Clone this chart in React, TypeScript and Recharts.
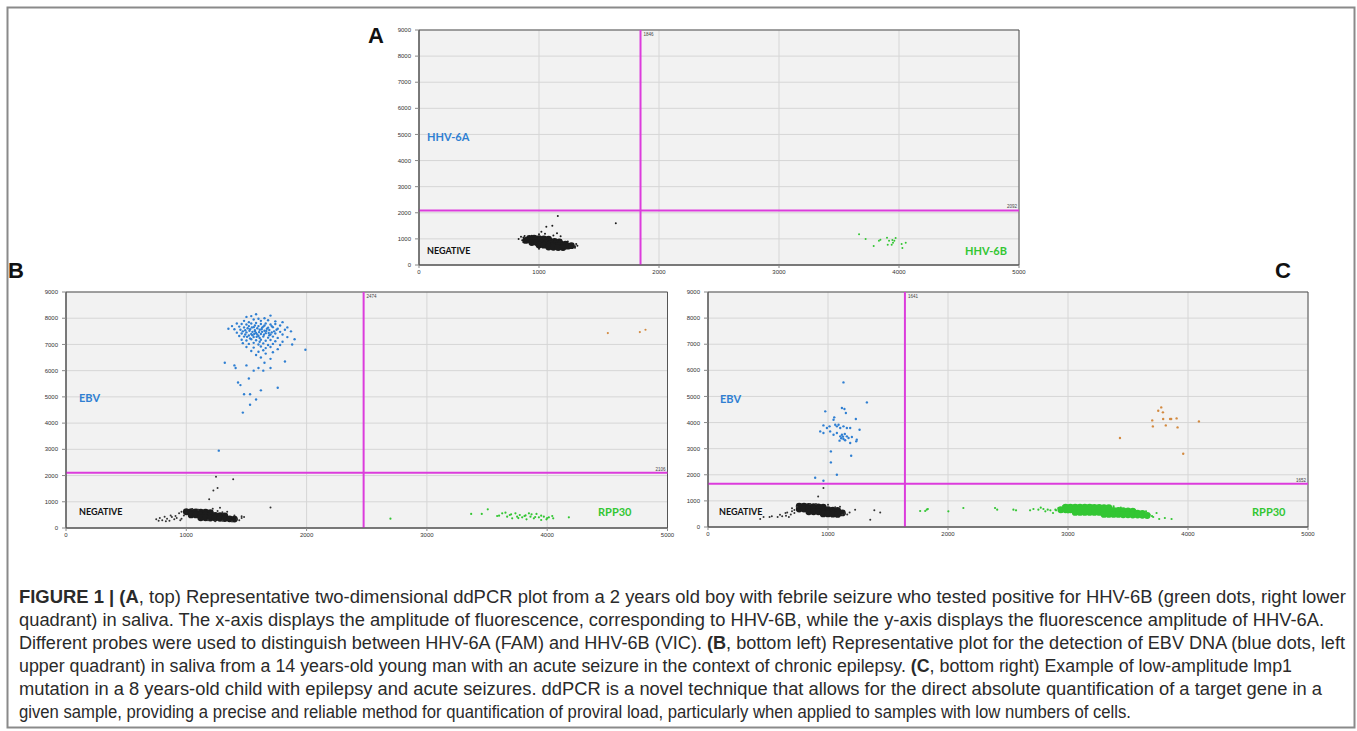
import { ScatterChart, Scatter, XAxis, YAxis, CartesianGrid, ReferenceLine, ReferenceArea } from "recharts"

type Pt = [number, number]

const xTicks = [0, 1000, 2000, 3000, 4000, 5000]
const yTicks = [0, 1000, 2000, 3000, 4000, 5000, 6000, 7000, 8000, 9000]

// panel A: HHV-6A (y) vs HHV-6B (x)
const aThreshX = 1846
const aThreshY = 2092
const aNegCore: Pt[] = [
  [920, 1020], [960, 1030], [1000, 1010], [1040, 1000], [1080, 990],
  [890, 940], [930, 950], [970, 940], [1010, 930], [1050, 920], [1090, 910], [1130, 900], [1170, 880],
  [940, 860], [980, 860], [1020, 850], [1060, 840], [1100, 830], [1140, 820], [1180, 810], [1220, 800],
  [1000, 770], [1040, 760], [1080, 760], [1120, 750], [1160, 740], [1200, 730], [1240, 720], [1270, 740],
  [1080, 690], [1120, 680], [1160, 670], [1200, 670],
]
const aNegDots: Pt[] = [
  [830, 1000], [850, 1080], [860, 950], [870, 1050], [1280, 780], [1300, 720], [1310, 800], [1270, 680],
  [1000, 1180], [1050, 1200], [1120, 1130], [1150, 1220], [900, 900], [1240, 900], [870, 870], [1320, 740],
  [1000, 620], [940, 1120], [1180, 1100], [1250, 650], [1200, 600], [1157, 1880], [1061, 1467], [1111, 1506],
  [1020, 1276], [1640, 1600], [880, 1110], [1300, 660],
]
const aPos6B: Pt[] = [
  [3667, 1176], [3722, 996], [3789, 728], [3833, 931], [3845, 969], [3900, 1046], [3917, 931], [3906, 778],
  [3945, 957], [3950, 855], [3972, 1034], [3939, 778], [4022, 804], [4028, 651], [4056, 855], [3961, 931],
]

// panel B: EBV (y) vs RPP30 (x)
const bThreshX = 2474
const bThreshY = 2106
const bNegCore: Pt[] = [
  [1000, 620], [1040, 620], [1080, 610], [1120, 600], [1160, 600], [1200, 590],
  [1040, 500], [1080, 500], [1120, 500], [1160, 490], [1200, 490], [1240, 480], [1280, 470], [1320, 460],
  [1120, 390], [1160, 390], [1200, 380], [1240, 380], [1280, 370], [1320, 360], [1360, 350], [1400, 340],
]
const bNegDots: Pt[] = [
  [940, 560], [960, 620], [980, 480], [1260, 650], [1300, 600], [1420, 330], [1440, 300], [1460, 380],
  [1380, 250], [1300, 280], [1100, 700], [1050, 720], [1220, 730], [1180, 300], [1240, 260], [1340, 620],
  [1400, 480], [1460, 450], [1480, 420], [780, 380], [800, 300], [820, 430], [840, 350], [860, 280],
  [880, 420], [900, 330], [920, 380], [750, 330], [770, 280], [950, 300], [870, 480], [830, 260],
  [910, 460], [960, 350], [1247, 1950], [1225, 1430], [1260, 1530], [1390, 1860], [1190, 1100], [1700, 780],
  [1280, 770],
]
const bPosEbv: Pt[] = [
  [1500, 8050], [1540, 8080], [1580, 8150], [1650, 8000], [1700, 8100], [1600, 7980], [1560, 7950], [1480, 7900],
  [1520, 7850], [1620, 7900], [1680, 7920], [1740, 7880], [1800, 7850], [1420, 7800], [1460, 7780], [1500, 7760],
  [1540, 7800], [1580, 7820], [1620, 7780], [1660, 7800], [1700, 7760], [1740, 7780], [1780, 7720], [1840, 7650],
  [1380, 7700], [1440, 7680], [1480, 7650], [1520, 7700], [1560, 7660], [1600, 7700], [1640, 7680], [1680, 7640],
  [1720, 7660], [1760, 7600], [1820, 7560], [1350, 7600], [1400, 7580], [1450, 7560], [1490, 7540], [1530, 7580],
  [1570, 7540], [1610, 7560], [1650, 7520], [1690, 7550], [1730, 7500], [1780, 7480], [1870, 7500], [1420, 7450],
  [1460, 7420], [1500, 7460], [1540, 7400], [1580, 7440], [1620, 7400], [1660, 7430], [1700, 7380], [1740, 7420],
  [1800, 7380], [1440, 7320], [1480, 7300], [1520, 7340], [1560, 7280], [1600, 7320], [1640, 7300], [1680, 7260],
  [1720, 7300], [1760, 7250], [1840, 7280], [1900, 7200], [1460, 7180], [1500, 7150], [1540, 7200], [1580, 7160],
  [1620, 7180], [1660, 7140], [1700, 7170], [1740, 7120], [1800, 7100], [1470, 7050], [1520, 7020], [1560, 7060],
  [1600, 7000], [1640, 7040], [1680, 6980], [1720, 7020], [1780, 6980], [1880, 7000], [1500, 6900], [1560, 6880],
  [1620, 6920], [1660, 6860], [1700, 6900], [1760, 6820], [1990, 6800], [1540, 6750], [1600, 6720], [1640, 6780],
  [1580, 6600], [1660, 6650], [1720, 6700], [1620, 6500], [1700, 6450], [1320, 6300], [1400, 6200], [1410, 6100],
  [1500, 6200], [1560, 6000], [1600, 6100], [1650, 6300], [1640, 6000], [1700, 6100], [1820, 6350], [1430, 5550],
  [1450, 5450], [1520, 5700], [1480, 5100], [1530, 5100], [1620, 5250], [1760, 5350], [1580, 4900], [1530, 4700],
  [1470, 4400], [1270, 2950], [1510, 7620], [1550, 7480], [1590, 7620], [1630, 7480], [1670, 7600], [1710, 7460],
  [1550, 7350], [1610, 7250], [1690, 7350], [1570, 7720], [1650, 7720], [1530, 7230], [1590, 7380], [1630, 7640],
  [1470, 7500], [1750, 7560], [1710, 7700], [1490, 7380], [1570, 7500], [1610, 7100], [1525, 7520], [1565, 7400],
  [1605, 7470], [1645, 7370], [1585, 7290], [1625, 7580], [1545, 7650], [1665, 7510], [1505, 7290], [1685, 7440],
]
const bPosRpp: Pt[] = [
  [2697, 355], [3368, 535], [3456, 535], [3506, 714], [3584, 458], [3626, 560], [3653, 585], [3667, 433],
  [3689, 496], [3709, 369], [3736, 560], [3750, 433], [3772, 496], [3792, 407], [3811, 458], [3828, 331],
  [3848, 560], [3861, 433], [3889, 369], [3911, 535], [3931, 407], [3950, 305], [3972, 433], [3994, 331],
  [4014, 407], [4042, 458], [4050, 369], [4180, 407], [3600, 470], [3700, 520], [3760, 380], [3820, 480],
  [3870, 520], [3900, 420], [3950, 470], [4000, 380],
]
const bDouble: Pt[] = [[4504, 7434], [4770, 7472], [4817, 7560]]

// panel C: EBV (y) vs RPP30 (x)
const cThreshX = 1641
const cThreshY = 1652
const cNegCore: Pt[] = [
  [760, 800], [800, 800], [840, 790], [880, 780], [920, 770], [960, 760],
  [760, 690], [800, 690], [840, 690], [880, 680], [920, 680], [960, 670], [1000, 660], [1040, 650], [1080, 640],
  [840, 580], [880, 580], [920, 580], [960, 570], [1000, 570], [1040, 560], [1080, 550], [1120, 540],
  [960, 500], [1000, 500], [1040, 490], [1080, 480],
]
const cNegDots: Pt[] = [
  [700, 720], [720, 650], [740, 780], [700, 600], [1140, 520], [1160, 480], [1120, 470], [1180, 560],
  [1000, 850], [1060, 760], [900, 880], [850, 880], [720, 540], [1100, 780], [463, 383], [513, 383],
  [532, 408], [435, 306], [646, 536], [618, 408], [674, 383], [600, 470], [650, 430], [580, 380],
  [690, 480], [660, 560], [1226, 663], [1386, 637], [1435, 560], [1352, 281], [962, 1493], [918, 1172],
]
const cPosEbv: Pt[] = [
  [1129, 5538], [1324, 4772], [1116, 4558], [1137, 4520], [1149, 4366], [1232, 4136], [977, 4430], [1052, 4200],
  [1046, 4110], [962, 3891], [991, 3792], [1013, 3855], [1060, 3918], [1074, 3855], [1088, 3918], [1102, 3792],
  [1129, 3855], [1157, 3792], [1185, 3792], [1263, 3727], [935, 3661], [962, 3598], [1018, 3661], [1046, 3534],
  [1074, 3598], [1102, 3472], [1116, 3534], [1129, 3370], [1157, 3472], [1143, 3320], [1171, 3410], [1199, 3448],
  [1235, 3280], [1185, 3218], [1240, 3345], [1096, 3307], [1024, 2896], [1024, 2475], [1193, 2731], [1074, 2003],
  [893, 1888], [962, 1773], [1110, 3400], [1125, 3460], [1140, 3560],
]
const cPosRppCore: Pt[] = [
  [2980, 760], [3020, 760], [3060, 760], [3100, 760], [3140, 760], [3180, 760], [3220, 750], [3260, 750], [3300, 740], [3340, 740],
  [2940, 660], [2980, 660], [3020, 660], [3060, 660], [3100, 660], [3140, 660], [3180, 660], [3220, 660],
  [3260, 650], [3300, 650], [3340, 650], [3380, 640], [3420, 640], [3460, 630], [3500, 620], [3540, 610],
  [3060, 560], [3100, 560], [3140, 560], [3180, 560], [3220, 560], [3260, 560], [3300, 560], [3340, 560],
  [3380, 560], [3420, 550], [3460, 550], [3500, 540], [3540, 540], [3580, 530], [3620, 520],
  [3300, 480], [3340, 480], [3380, 480], [3420, 480], [3460, 470], [3500, 470], [3540, 460], [3580, 460], [3620, 450], [3660, 440],
]
const cPosRppDots: Pt[] = [
  [1768, 612], [1810, 612], [1823, 663], [1832, 689], [2003, 600], [2128, 727], [2392, 727], [2410, 663],
  [2545, 663], [2567, 637], [2684, 637], [2712, 689], [2753, 663], [2773, 740], [2795, 689], [2811, 600],
  [2831, 663], [2853, 637], [2875, 536], [2895, 663], [2920, 720], [2900, 640], [2960, 800], [3000, 820],
  [3100, 830], [3200, 820], [3300, 810], [3380, 790], [3440, 740], [3560, 640], [3620, 520], [3680, 470],
  [3700, 420], [3650, 600], [3000, 560], [2950, 580], [3710, 383], [3760, 306], [3807, 345], [3863, 306],
  [3738, 536],
]
const cDouble: Pt[] = [
  [3777, 4581], [3752, 4453], [3791, 4390], [3702, 4083], [3793, 4134], [3851, 4134], [3860, 4134], [3905, 4160],
  [3707, 3853], [3815, 3892], [3913, 3815], [4091, 4045], [3433, 3409], [3960, 2807],
]

const captionLines = [
  { parts: [["FIGURE 1 | (A", true], [", top) Representative two-dimensional ddPCR plot from a 2 years old boy with febrile seizure who tested positive for HHV-6B (green dots, right lower", false]], end: 1346 },
  { parts: [["quadrant) in saliva. The x-axis displays the amplitude of fluorescence, corresponding to HHV-6B, while the y-axis displays the fluorescence amplitude of HHV-6A.", false]], end: 1324 },
  { parts: [["Different probes were used to distinguish between HHV-6A (FAM) and HHV-6B (VIC). ", false], ["(B", true], [", bottom left) Representative plot for the detection of EBV DNA (blue dots, left", false]], end: 1345 },
  { parts: [["upper quadrant) in saliva from a 14 years-old young man with an acute seizure in the context of chronic epilepsy. ", false], ["(C", true], [", bottom right) Example of low-amplitude lmp1", false]], end: 1292 },
  { parts: [["mutation in a 8 years-old child with epilepsy and acute seizures. ddPCR is a novel technique that allows for the direct absolute quantification of a target gene in a", false]], end: 1322 },
  { parts: [["given sample, providing a precise and reliable method for quantification of proviral load, particularly when applied to samples with low numbers of cells.", false]], end: 1131 },
] as { parts: [string, boolean][]; end: number }[]

const BLACK = "#1c1c1c"
const BLUE = "#2f7fd2"
const GREEN = "#33c633"
const ORANGE = "#d38a40"
const MAGENTA = "#dc3cdc"

interface Layer { pts: Pt[]; color: string; r: number }

const dot = (color: string, r: number) => (p: any) => <circle cx={p.cx} cy={p.cy} r={r} fill={color} />

function Panel({ left, top, w, h, layers, vx, hy }: { left: number; top: number; w: number; h: number; layers: Layer[]; vx: number; hy: number }) {
  const ML = 45, MR = 14, MT = 8, XH = 16
  const tick = { fontSize: 6, fill: "#333", fontFamily: "Liberation Sans" }
  return (
    <div style={{ position: "absolute", left: left - ML, top: top - MT }}>
      <ScatterChart width={ML + w + MR} height={MT + h + XH} margin={{ top: MT, right: MR, bottom: 0, left: 0 }}>
        <CartesianGrid fill="#f2f2f2" stroke="#d6d6d6" />
        <XAxis type="number" dataKey="x" domain={[0, 5000]} ticks={xTicks} height={XH} tick={tick} tickSize={3} tickMargin={2} axisLine={{ stroke: "#555" }} tickLine={{ stroke: "#888" }} allowDataOverflow />
        <YAxis type="number" dataKey="y" domain={[0, 9000]} ticks={yTicks} width={ML} tick={tick} tickSize={4} tickMargin={4} axisLine={{ stroke: "#555" }} tickLine={{ stroke: "#888" }} allowDataOverflow />
        <ReferenceArea x1={0} x2={5000} y1={0} y2={9000} fill="none" stroke="#555" strokeWidth={1} />
        {layers.map((l, i) => (
          <Scatter key={i} data={l.pts.map(([x, y]) => ({ x, y }))} shape={dot(l.color, l.r)} isAnimationActive={false} />
        ))}
        <ReferenceLine x={vx} stroke={MAGENTA} strokeWidth={2}
          label={(p: any) => <text x={p.viewBox.x + 3} y={p.viewBox.y + 6} fontSize={4.5} fill="#444" fontFamily="Liberation Sans">{vx}</text>} />
        <ReferenceLine y={hy} stroke={MAGENTA} strokeWidth={2}
          label={(p: any) => <text x={p.viewBox.x + p.viewBox.width - 2} y={p.viewBox.y - 2} fontSize={4.5} fill="#444" textAnchor="end" fontFamily="Liberation Sans">{hy}</text>} />
      </ScatterChart>
    </div>
  )
}

export default function App() {
  const lab = { fontFamily: "Lato, 'Open Sans', sans-serif", fontWeight: 700 }
  return (
    <div style={{ position: "absolute", left: 0, top: 0, width: 1357, height: 731, background: "#fff", overflow: "hidden" }}>
      <Panel left={419} top={30} w={600} h={235} vx={aThreshX} hy={aThreshY} layers={[
        { pts: aNegCore, color: BLACK, r: 3.4 }, { pts: aNegDots, color: BLACK, r: 1 }, { pts: aPos6B, color: GREEN, r: 1 },
      ]} />
      <Panel left={65.5} top={292} w={601.5} h={236} vx={bThreshX} hy={bThreshY} layers={[
        { pts: bNegCore, color: BLACK, r: 3.4 }, { pts: bNegDots, color: "#333", r: 1 }, { pts: bPosEbv, color: BLUE, r: 1.2 },
        { pts: bPosRpp, color: GREEN, r: 1.1 }, { pts: bDouble, color: ORANGE, r: 1.1 },
      ]} />
      <Panel left={708} top={292} w={600} h={235} vx={cThreshX} hy={cThreshY} layers={[
        { pts: cNegCore, color: BLACK, r: 3.4 }, { pts: cNegDots, color: "#333", r: 1 }, { pts: cPosEbv, color: BLUE, r: 1.2 },
        { pts: cPosRppCore, color: GREEN, r: 3.4 }, { pts: cPosRppDots, color: GREEN, r: 1.1 }, { pts: cDouble, color: ORANGE, r: 1.2 },
      ]} />
      <svg width={1357} height={731} style={{ position: "absolute", left: 0, top: 0, pointerEvents: "none" }}>
        <rect x={7.5} y={7.5} width={1347} height={720} fill="none" stroke="#8a8a8a" strokeWidth={2} />
        <g fontFamily="Liberation Sans, Arial, sans-serif" fontWeight={700} fontSize={22} fill="#111" textAnchor="middle" dominantBaseline="central">
          <text x={376} y={35}>A</text>
          <text x={16} y={270}>B</text>
          <text x={1283} y={270}>C</text>
        </g>
        <g style={lab} dominantBaseline="central">
          <text x={427} y={136} fontSize={11} fill={BLUE}>HHV-6A</text>
          <text x={427} y={250} fontSize={9} fill="#111">NEGATIVE</text>
          <text x={965} y={250} fontSize={11} fill={GREEN}>HHV-6B</text>
          <text x={79} y={397} fontSize={11} fill={BLUE}>EBV</text>
          <text x={79} y={511} fontSize={9} fill="#111">NEGATIVE</text>
          <text x={598} y={511} fontSize={11} fill={GREEN}>RPP30</text>
          <text x={720} y={398} fontSize={11} fill={BLUE}>EBV</text>
          <text x={719} y={511} fontSize={9} fill="#111">NEGATIVE</text>
          <text x={1252} y={511} fontSize={11} fill={GREEN}>RPP30</text>
        </g>
        <g fontFamily="'Liberation Sans Narrow', 'Liberation Sans', Arial, sans-serif" fontSize={17.5} fill="#2a2a2a">
          {captionLines.map((ln, i) => (
            <text key={i} x={19} y={603 + i * 23} textLength={ln.end - 19} lengthAdjust="spacingAndGlyphs">
              {ln.parts.map(([t, b], j) => <tspan key={j} fontWeight={b ? 700 : 400}>{t}</tspan>)}
            </text>
          ))}
        </g>
      </svg>
    </div>
  )
}
